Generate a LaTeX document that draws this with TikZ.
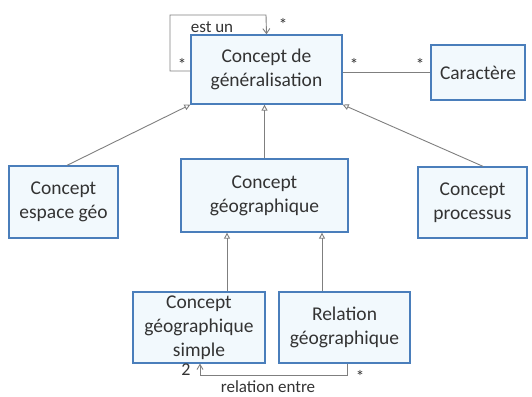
\documentclass[tikz,border=0pt]{standalone}
\usepackage{fontspec}
\setmainfont{Carlito}
\usetikzlibrary{arrows.meta}
\definecolor{boxblue}{HTML}{4A7EBB}
\definecolor{boxfill}{HTML}{F2F9FD}
\definecolor{linegrey}{HTML}{7F7F7F}
\definecolor{txt}{HTML}{333333}
\begin{document}
\begin{tikzpicture}[x=1pt,y=-1pt,
  cls/.style={draw=boxblue,line width=1.3pt,fill=boxfill,inner sep=0pt,align=center,
    font=\fontsize{19.5}{24}\selectfont,text=txt},
  conn/.style={draw=linegrey,line width=0.9pt},
  inh/.style={conn,-{Triangle[open,length=6pt,width=6pt]}},
  lbl/.style={font=\fontsize{17}{19}\selectfont,text=txt,inner sep=1pt}]
\useasboundingbox (0,0) rectangle (532,396);
\node[cls,minimum width=151pt,minimum height=69pt] (gen) at (266.5,69.5) {Concept de\\généralisation};
\node[cls,minimum width=94pt,minimum height=55pt] (car) at (478,72.5) {Caractère};
\node[cls,minimum width=109pt,minimum height=72pt] (esp) at (63.5,202) {Concept\\espace géo};
\node[cls,minimum width=167pt,minimum height=73pt] (geo) at (264.5,195.5) {Concept\\géographique};
\node[cls,minimum width=109pt,minimum height=71pt] (pro) at (472.5,202.5) {Concept\\processus};
\node[cls,minimum width=132pt,minimum height=71pt] (sim) at (199,327.5) {Concept\\géographique\\simple};
\node[cls,minimum width=131pt,minimum height=71pt] (rel) at (344.5,327.5) {Relation\\géographique};
% self association
\coordinate (l1) at (170,71);
\coordinate (l2) at (170,15);
\coordinate (l3) at (266,15);
\draw[conn,-{Straight Barb[length=5pt,width=7pt]}] (gen.west |- l1) -- (l1) -- (l2) -- (l3) -- (gen.north);
\node[lbl] (estun) at (212,27) {est un};
\node[lbl] (s1) at (283,24) {*};
\node[lbl] (s2) at (182,64) {*};
% caractere
\draw[conn] (gen.east |- car.west) -- (car.west);
\node[lbl] (s3) at (354,64) {*};
\node[lbl] (s4) at (420,64) {*};
% inheritance
\draw[inh] (esp.north -| 67,0) -- (gen.south west);
\draw[inh] (pro.north -| 483,0) -- (gen.south east);
\draw[inh] (geo.north) -- (gen.south -| geo.north);
\draw[inh] (sim.north -| 227,0) -- (geo.south -| 227,0);
\draw[inh] (rel.north -| 322,0) -- (geo.south -| 322,0);
% relation entre
\coordinate (b1) at (347,375);
\coordinate (b2) at (200,375);
\draw[conn,-{Straight Barb[length=5pt,width=6pt]}] (rel.south -| b1) -- (b1) -- (b2) -- (sim.south -| b2);
\node[lbl] (n2) at (186,370) {\fontsize{18}{20}\selectfont 2};
\node[lbl] (s5) at (360,376) {*};
\node[lbl,inner sep=0pt,anchor=base] (relentre) at (268,392) {relation entre};
\end{tikzpicture}
\end{document}
